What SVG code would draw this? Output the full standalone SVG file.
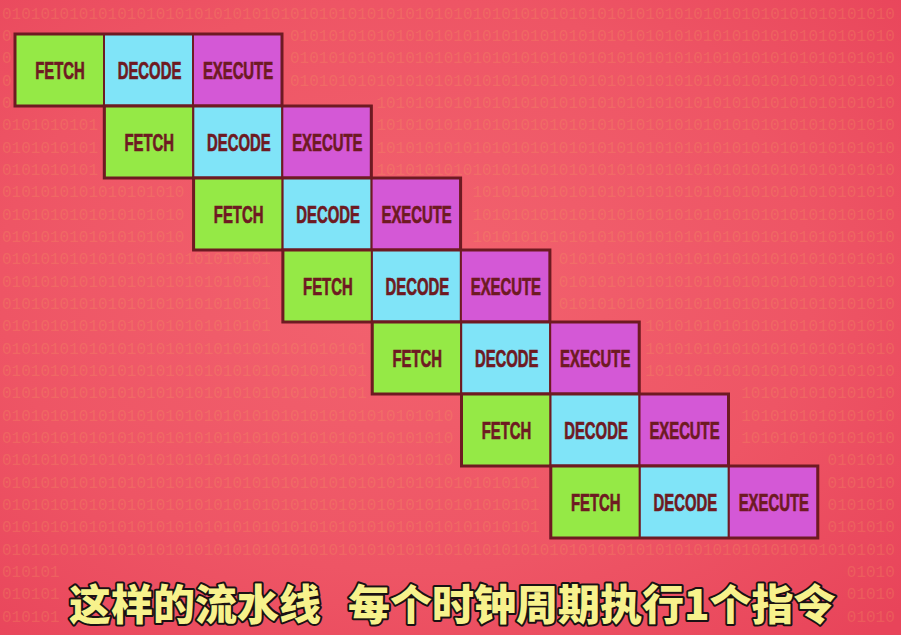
<svg xmlns="http://www.w3.org/2000/svg" width="901" height="635" viewBox="0 0 901 635">
<defs>
<radialGradient id="bg" cx="0.45" cy="0.45" r="0.75">
<stop offset="0" stop-color="#f2636f"/>
<stop offset="0.6" stop-color="#ee5565"/>
<stop offset="1" stop-color="#e8445a"/>
</radialGradient>
<style>
.bin{font-family:"Liberation Mono",monospace;font-size:16px;fill:#f8a060;opacity:0.24;}
.cell{stroke:#6e1a22;stroke-width:2;}
.f{fill:#95e946;}
.d{fill:#80e4f8;}
.e{fill:#d458d6;}
.frame{fill:none;stroke:#6e1a22;stroke-width:3;}
.lbl{font-family:"Liberation Sans",Arial,sans-serif;font-weight:bold;font-size:24px;fill:#6e1a22;stroke:#6e1a22;stroke-width:0.7;text-anchor:middle;}
.sub{font-family:"Noto Sans CJK SC",sans-serif;font-weight:900;font-size:42px;fill:#f7f28c;stroke:#1a1214;stroke-width:4;stroke-linejoin:round;paint-order:stroke;}
</style>
</defs>
<rect x="0" y="0" width="901" height="635" fill="url(#bg)"/>
<g id="binary-bg">
<text class="bin" x="2" y="19">010101010101010101010101010101010101010101010101010101010101010101010101010101010101010101010</text>
<text class="bin" x="2" y="41">0</text><text class="bin" x="290" y="41">010101010101010101010101010101010101010101010101010101010101010</text>
<text class="bin" x="2" y="63">0</text><text class="bin" x="290" y="63">010101010101010101010101010101010101010101010101010101010101010</text>
<text class="bin" x="2" y="86">0</text><text class="bin" x="290" y="86">010101010101010101010101010101010101010101010101010101010101010</text>
<text class="bin" x="2" y="108">0</text><text class="bin" x="376.4" y="108">101010101010101010101010101010101010101010101010101010</text>
<text class="bin" x="2" y="130">0101010101</text><text class="bin" x="376.4" y="130">101010101010101010101010101010101010101010101010101010</text>
<text class="bin" x="2" y="153">0101010101</text><text class="bin" x="376.4" y="153">101010101010101010101010101010101010101010101010101010</text>
<text class="bin" x="2" y="175">0101010101</text><text class="bin" x="376.4" y="175">101010101010101010101010101010101010101010101010101010</text>
<text class="bin" x="2" y="197">0101010101010101010</text><text class="bin" x="472.4" y="197">10101010101010101010101010101010101010101010</text>
<text class="bin" x="2" y="220">0101010101010101010</text><text class="bin" x="472.4" y="220">10101010101010101010101010101010101010101010</text>
<text class="bin" x="2" y="242">0101010101010101010</text><text class="bin" x="472.4" y="242">10101010101010101010101010101010101010101010</text>
<text class="bin" x="2" y="264">0101010101010101010101010101</text><text class="bin" x="558.8" y="264">01010101010101010101010101010101010</text>
<text class="bin" x="2" y="287">0101010101010101010101010101</text><text class="bin" x="558.8" y="287">01010101010101010101010101010101010</text>
<text class="bin" x="2" y="309">0101010101010101010101010101</text><text class="bin" x="558.8" y="309">01010101010101010101010101010101010</text>
<text class="bin" x="2" y="331">0101010101010101010101010101</text><text class="bin" x="645.2" y="331">10101010101010101010101010</text>
<text class="bin" x="2" y="354">01010101010101010101010101010101010101</text><text class="bin" x="645.2" y="354">10101010101010101010101010</text>
<text class="bin" x="2" y="376">01010101010101010101010101010101010101</text><text class="bin" x="645.2" y="376">10101010101010101010101010</text>
<text class="bin" x="2" y="398">01010101010101010101010101010101010101</text><text class="bin" x="741.2" y="398">1010101010101010</text>
<text class="bin" x="2" y="421">01010101010101010101010101010101010101010101010</text><text class="bin" x="741.2" y="421">1010101010101010</text>
<text class="bin" x="2" y="443">01010101010101010101010101010101010101010101010</text><text class="bin" x="741.2" y="443">1010101010101010</text>
<text class="bin" x="2" y="465">01010101010101010101010101010101010101010101010</text><text class="bin" x="827.6" y="465">0101010</text>
<text class="bin" x="2" y="488">01010101010101010101010101010101010101010101010101010101</text><text class="bin" x="827.6" y="488">0101010</text>
<text class="bin" x="2" y="510">01010101010101010101010101010101010101010101010101010101</text><text class="bin" x="827.6" y="510">0101010</text>
<text class="bin" x="2" y="532">01010101010101010101010101010101010101010101010101010101</text><text class="bin" x="827.6" y="532">0101010</text>
<text class="bin" x="2" y="555">010101010101010101010101010101010101010101010101010101010101010101010101010101010101010101010</text>
<text class="bin" x="2" y="577">010101</text><text class="bin" x="846.8" y="577">01010</text>
<text class="bin" x="2" y="599">010101</text><text class="bin" x="846.8" y="599">01010</text>
<text class="bin" x="2" y="622">010101</text><text class="bin" x="846.8" y="622">01010</text>
</g>
<g id="row1" transform="translate(15,34)">
<rect class="cell f" x="0" y="0" width="89" height="72"/><rect class="cell d" x="89" y="0" width="89" height="72"/><rect class="cell e" x="178" y="0" width="89" height="72"/><rect class="frame" x="0" y="0" width="267" height="72"/>
<text class="lbl" transform="translate(45,45) scale(0.62,1)">FETCH</text><text class="lbl" transform="translate(134.5,45) scale(0.62,1)">DECODE</text><text class="lbl" transform="translate(223,45) scale(0.62,1)">EXECUTE</text>
</g>
<g id="row2" transform="translate(104.3,106)">
<rect class="cell f" x="0" y="0" width="89" height="72"/><rect class="cell d" x="89" y="0" width="89" height="72"/><rect class="cell e" x="178" y="0" width="89" height="72"/><rect class="frame" x="0" y="0" width="267" height="72"/>
<text class="lbl" transform="translate(45,45) scale(0.62,1)">FETCH</text><text class="lbl" transform="translate(134.5,45) scale(0.62,1)">DECODE</text><text class="lbl" transform="translate(223,45) scale(0.62,1)">EXECUTE</text>
</g>
<g id="row3" transform="translate(193.6,178)">
<rect class="cell f" x="0" y="0" width="89" height="72"/><rect class="cell d" x="89" y="0" width="89" height="72"/><rect class="cell e" x="178" y="0" width="89" height="72"/><rect class="frame" x="0" y="0" width="267" height="72"/>
<text class="lbl" transform="translate(45,45) scale(0.62,1)">FETCH</text><text class="lbl" transform="translate(134.5,45) scale(0.62,1)">DECODE</text><text class="lbl" transform="translate(223,45) scale(0.62,1)">EXECUTE</text>
</g>
<g id="row4" transform="translate(282.9,250)">
<rect class="cell f" x="0" y="0" width="89" height="72"/><rect class="cell d" x="89" y="0" width="89" height="72"/><rect class="cell e" x="178" y="0" width="89" height="72"/><rect class="frame" x="0" y="0" width="267" height="72"/>
<text class="lbl" transform="translate(45,45) scale(0.62,1)">FETCH</text><text class="lbl" transform="translate(134.5,45) scale(0.62,1)">DECODE</text><text class="lbl" transform="translate(223,45) scale(0.62,1)">EXECUTE</text>
</g>
<g id="row5" transform="translate(372.2,322)">
<rect class="cell f" x="0" y="0" width="89" height="72"/><rect class="cell d" x="89" y="0" width="89" height="72"/><rect class="cell e" x="178" y="0" width="89" height="72"/><rect class="frame" x="0" y="0" width="267" height="72"/>
<text class="lbl" transform="translate(45,45) scale(0.62,1)">FETCH</text><text class="lbl" transform="translate(134.5,45) scale(0.62,1)">DECODE</text><text class="lbl" transform="translate(223,45) scale(0.62,1)">EXECUTE</text>
</g>
<g id="row6" transform="translate(461.5,394)">
<rect class="cell f" x="0" y="0" width="89" height="72"/><rect class="cell d" x="89" y="0" width="89" height="72"/><rect class="cell e" x="178" y="0" width="89" height="72"/><rect class="frame" x="0" y="0" width="267" height="72"/>
<text class="lbl" transform="translate(45,45) scale(0.62,1)">FETCH</text><text class="lbl" transform="translate(134.5,45) scale(0.62,1)">DECODE</text><text class="lbl" transform="translate(223,45) scale(0.62,1)">EXECUTE</text>
</g>
<g id="row7" transform="translate(550.8,466)">
<rect class="cell f" x="0" y="0" width="89" height="72"/><rect class="cell d" x="89" y="0" width="89" height="72"/><rect class="cell e" x="178" y="0" width="89" height="72"/><rect class="frame" x="0" y="0" width="267" height="72"/>
<text class="lbl" transform="translate(45,45) scale(0.62,1)">FETCH</text><text class="lbl" transform="translate(134.5,45) scale(0.62,1)">DECODE</text><text class="lbl" transform="translate(223,45) scale(0.62,1)">EXECUTE</text>
</g>
<g id="connectors"></g>
<g id="subtitle">
<text class="sub" x="69" y="620">这样的流水线</text>
<text class="sub" x="348" y="620">每个时钟周期执行1个指令</text>
</g>
</svg>
